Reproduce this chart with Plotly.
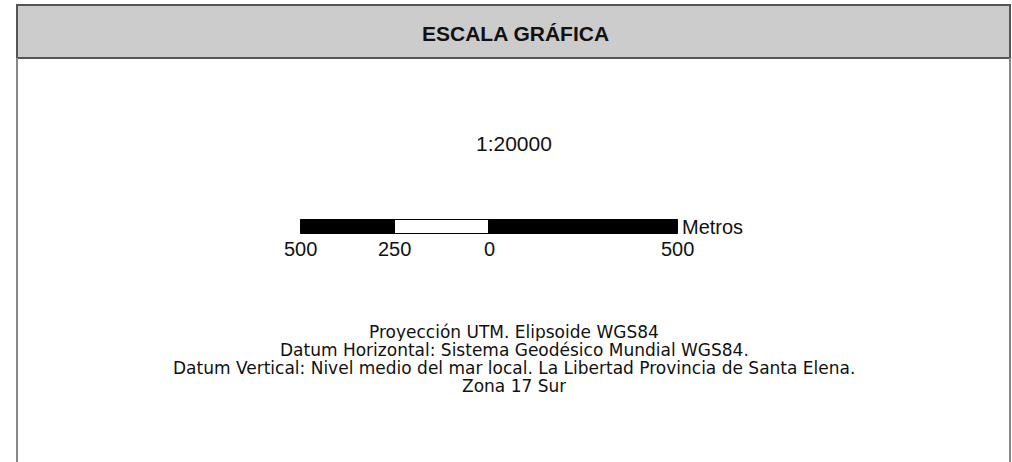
import plotly.graph_objects as go

# Data
title_text = "ESCALA GRÁFICA"
scale_text = "1:20000"
unit_label = "Metros"
segment_starts = [-500, -250, 0]
segment_ends = [-250, 0, 500]
segment_colors = ["#000000", "#ffffff", "#000000"]
tick_values = [-500, -250, 0, 500]
tick_labels = ["500", "250", "0", "500"]
footer_lines = [
    "Proyección UTM. Elipsoide WGS84",
    "Datum Horizontal: Sistema Geodésico Mundial WGS84.",
    "Datum Vertical: Nivel medio del mar local. La Libertad Provincia de Santa Elena.",
    "Zona 17 Sur",
]

W, H = 1012, 462
FONT = "Liberation Sans, Arial, sans-serif"
FOOT_FONT = "DejaVu Sans, Liberation Sans, sans-serif"
TXT = "#111111"

fig = go.Figure()
fig.add_trace(go.Bar(
    orientation="h",
    y=[227] * len(segment_starts),
    x=[e - s for s, e in zip(segment_starts, segment_ends)],
    base=segment_starts,
    width=14,
    marker=dict(color=segment_colors, line=dict(color="#000000", width=1)),
    hoverinfo="skip",
    showlegend=False,
))

annotations = []
annotations.append(dict(text=f"<b>{title_text}</b>", x=515 / W, xref="paper", y=33, yref="y",
                        showarrow=False, font=dict(family=FONT, size=21, color=TXT),
                        xanchor="center", yanchor="middle"))
annotations.append(dict(text=scale_text, x=514 / W, xref="paper", y=143, yref="y",
                        showarrow=False, font=dict(family=FONT, size=21, color=TXT),
                        xanchor="center", yanchor="middle"))
for v, t in zip(tick_values, tick_labels):
    annotations.append(dict(text=t, x=v, xref="x", y=249, yref="y", showarrow=False,
                            font=dict(family=FONT, size=20, color=TXT),
                            xanchor="center", yanchor="middle"))
annotations.append(dict(text=unit_label, x=segment_ends[-1], xref="x", xshift=2, y=227, yref="y",
                        showarrow=False, font=dict(family=FONT, size=20, color=TXT),
                        xanchor="left", yanchor="middle"))
for i, line in enumerate(footer_lines):
    annotations.append(dict(text=line, x=514 / W, xref="paper", y=332 + 18 * i, yref="y",
                            showarrow=False, font=dict(family=FOOT_FONT, size=17, color=TXT),
                            height=18, borderpad=0, valign="middle",
                            xanchor="center", yanchor="middle"))

shapes = [
    dict(type="rect", xref="paper", yref="y", x0=17 / W, x1=1010 / W, y0=5, y1=58,
         fillcolor="#cccccc", line=dict(color="#555555", width=2), layer="below"),
    dict(type="line", xref="paper", yref="y", x0=17 / W, x1=17 / W, y0=58, y1=470,
         line=dict(color="#888888", width=2)),
    dict(type="line", xref="paper", yref="y", x0=1010 / W, x1=1010 / W, y0=58, y1=470,
         line=dict(color="#888888", width=2)),
]

px_per_unit = 0.377
x0_px = 489
fig.update_layout(
    width=W, height=H,
    margin=dict(l=0, r=0, t=0, b=0),
    paper_bgcolor="white", plot_bgcolor="white",
    xaxis=dict(range=[-x0_px / px_per_unit, (W - x0_px) / px_per_unit], visible=False, fixedrange=True),
    yaxis=dict(range=[H, 0], visible=False, fixedrange=True),
    annotations=annotations,
    shapes=shapes,
    bargap=0,
)

fig.write_html(
    "out.html",
    config={"displayModeBar": False},
    post_script="document.body.style.margin='0';document.body.style.overflow='hidden';",
)
